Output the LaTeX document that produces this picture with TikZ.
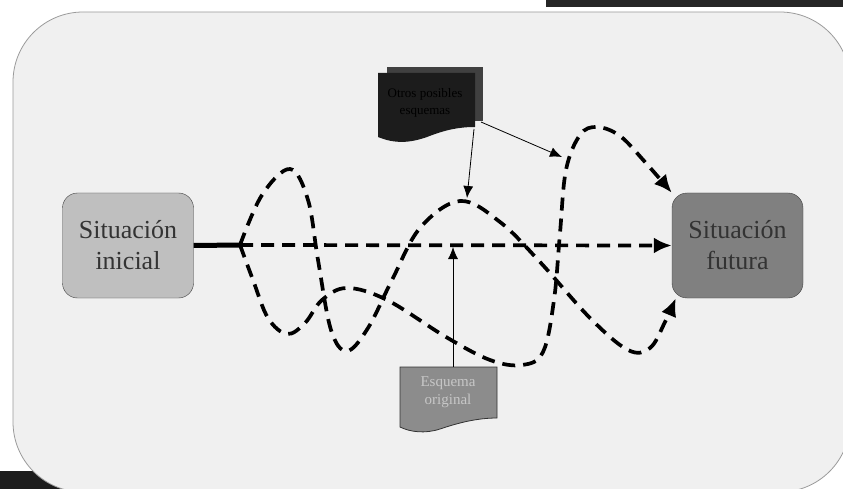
\documentclass[tikz,border=0pt]{standalone}
\usepackage{fontspec}
\setmainfont{Liberation Serif}
\usetikzlibrary{arrows.meta}
\definecolor{fondo}{HTML}{F0F0F0}
\definecolor{borde}{HTML}{9A9A9A}
\definecolor{oscuro}{HTML}{1C1C1C}
\begin{document}
\begin{tikzpicture}[x=1pt,y=-1pt,
    caja/.style={draw=black!75,rounded corners=15pt,minimum width=131pt,minimum height=105pt,
        align=center,text=black!80,font=\fontsize{26}{31}\selectfont},
    camino/.style={line width=3.7pt,dash pattern=on 13pt off 8pt,
        -{Latex[length=18pt,width=16pt]}},
    flecha/.style={line width=0.8pt,-{Latex[length=12pt,width=10pt]}}]
    \useasboundingbox (0,0) rectangle (843,489);

    % marco de fondo
    \fill[black!85] (546,0) rectangle (843,7);
    \fill[oscuro] (0,471) rectangle (120,489);
    \filldraw[fill=fondo,draw=borde,line width=0.8pt,rounded corners=70pt] (13,12) rectangle (850,492);

    % situaciones
    \node[caja,fill=black!25] (inicial) at (128,245.5) {Situación\\inicial};
    \node[caja,fill=black!50] (futura) at (737.5,245.5) {Situación\\futura};
    \coordinate (fork) at (240,245);
    \draw[line width=5pt] (inicial.east) -- (fork);

    % caminos
    \draw[camino] (fork) -- (futura.west);
    \draw[camino] plot[smooth,tension=0.6] coordinates {(fork) (262,195) (290,169) (308,200)
        (318,260) (331,330) (347,351) (368,328) (392,280) (420,228) (460,201) (500,222)
        (540,262) (590,318) (628,350) (650,348) (665,322) ([xshift=4pt]futura.south west)};
    \draw[camino] plot[smooth,tension=0.6] coordinates {(fork) (253,280) (268,318) (287,334)
        (305,323) (322,300) (347,288) (387,300) (446,337) (490,360) (522,365) (543,352)
        (554,300) (560,233) (566,170) (580,135) (597,127) (620,136) (645,162) (futura.north west)};

    % otros esquemas
    \fill[black!75] (387,67) rectangle (483,121);
    \fill[oscuro] (378,73) -- (475,73) -- (475,127) .. controls (458,127) and (445,130) .. (427,137)
        .. controls (410,143) and (395,144) .. (378,137) -- cycle;
    \node[align=center,text=black,font=\fontsize{13}{17}\selectfont] (otros) at (425,103)
        {Otros posibles\\esquemas};
    \coordinate (otrosS) at (474,129);
    \coordinate (otrosE) at (481,122);
    \coordinate (pico) at (467,198);
    \coordinate (lazo) at (562,157);
    \draw[flecha] (otrosS) -- (pico);
    \draw[flecha] (otrosE) -- (lazo);

    % esquema original
    \filldraw[fill=black!45,draw=black!80,line width=0.8pt] (400,367) -- (497,367) -- (497,418)
        .. controls (475,418) and (455,424) .. (440,429) .. controls (425,434) and (410,432) .. (400,427) -- cycle;
    \node[align=center,text=black!22,font=\fontsize{15}{18}\selectfont] (original) at (448,392)
        {Esquema\\original};
    \coordinate (origenN) at (453,367);
    \coordinate (medio) at (453,247);
    \draw[flecha] (origenN) -- (medio);
\end{tikzpicture}
\end{document}
